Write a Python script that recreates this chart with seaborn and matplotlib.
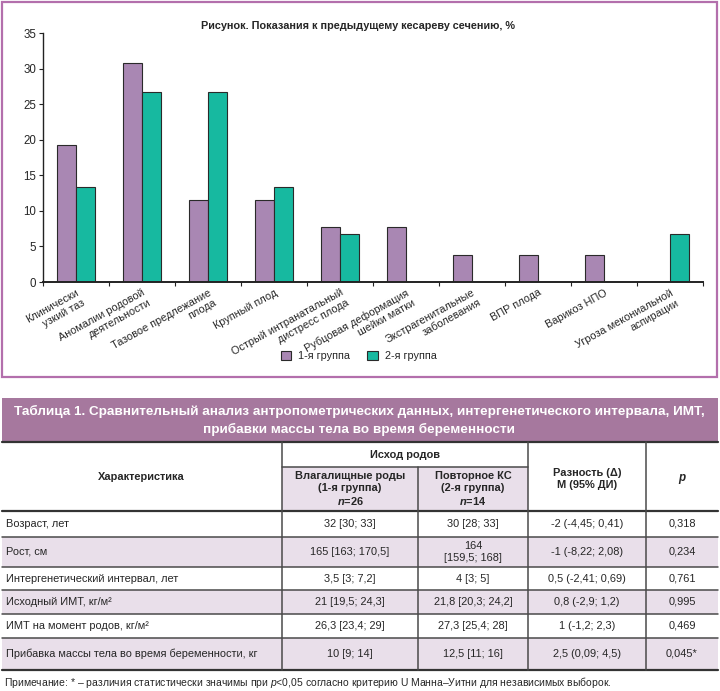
import pandas as pd
import numpy as np
import seaborn as sns
import matplotlib
import matplotlib.pyplot as plt
from matplotlib.patches import Rectangle

sns.set_theme(style='ticks')
FONT = 'Liberation Sans'
plt.rcParams['font.family'] = [FONT, 'DejaVu Sans']
plt.rcParams['mathtext.fontset'] = 'custom'
plt.rcParams['mathtext.rm'] = FONT
plt.rcParams['mathtext.it'] = FONT + ':italic'
plt.rcParams['mathtext.bfit'] = FONT + ':italic:bold'
plt.rcParams['axes.linewidth'] = 1.0

# ---- chart data ----
categories = ['Клинически\nузкий таз', 'Аномалии родовой\nдеятельности',
              'Тазовое предлежание\nплода', 'Крупный плод',
              'Острый интранатальный\nдистресс плода', 'Рубцовая деформация\nшейки матки',
              'Экстрагенитальные\nзаболевания', 'ВПР плода', 'Варикоз НПО',
              'Угроза мекониальной\nаспирации']
group1 = [19.2, 30.8, 11.5, 11.5, 7.7, 7.7, 3.8, 3.8, 3.8, 0]
group2 = [13.3, 26.7, 26.7, 13.3, 6.7, 0, 0, 0, 0, 6.7]
group_names = ['1-я группа', '2-я группа']
chart_title = 'Рисунок. Показания к предыдущему кесареву сечению, %'

# ---- table data ----
table_title = ['Таблица 1. Сравнительный анализ антропометрических данных, интергенетического интервала, ИМТ,',
               'прибавки массы тела во время беременности']
row_labels = ['Возраст, лет', 'Рост, см', 'Интергенетический интервал, лет',
              'Исходный ИМТ, кг/м²', 'ИМТ на момент родов, кг/м²',
              'Прибавка массы тела во время беременности, кг']
col_vag = ['32 [30; 33]', '165 [163; 170,5]', '3,5 [3; 7,2]', '21 [19,5; 24,3]',
           '26,3 [23,4; 29]', '10 [9; 14]']
col_cs = ['30 [28; 33]', '164\n[159,5; 168]', '4 [3; 5]', '21,8 [20,3; 24,2]',
          '27,3 [25,4; 28]', '12,5 [11; 16]']
col_diff = ['-2 (-4,45; 0,41)', '-1 (-8,22; 2,08)', '0,5 (-2,41; 0,69)', '0,8 (-2,9; 1,2)',
            '1 (-1,2; 2,3)', '2,5 (0,09; 4,5)']
col_p = ['0,318', '0,234', '0,761', '0,995', '0,469', '0,045*']
note = 'Примечание: * – различия статистически значимы при $p$<0,05 согласно критерию U Манна–Уитни для независимых выборок.'

purple = '#A987B3'
teal = '#17B9A0'
band = '#A6789E'
light = '#E9DFEA'
W, H = 720, 691

fig = plt.figure(figsize=(7.2, 6.91), dpi=100)

# ---- bar chart ----
ax = fig.add_axes([43 / W, 1 - 282 / H, 660 / W, 249 / H])
df = pd.DataFrame({
    'cat': categories * 2,
    'val': group1 + group2,
    'grp': [group_names[0]] * len(categories) + [group_names[1]] * len(categories),
})
sns.barplot(data=df, x='cat', y='val', hue='grp', palette=[purple, teal], saturation=1,
            width=0.58, edgecolor='#2a2a2a', linewidth=0.8, ax=ax)
ax.set_xlim(-0.5, len(categories) - 0.5)
ax.set_ylim(0, 35)
ax.set_yticks(np.arange(0, 36, 5))
ax.set_xlabel('')
ax.set_ylabel('')
sns.despine(ax=ax)
ax.spines['left'].set_color('#222222')
ax.spines['bottom'].set_color('#222222')
ax.spines['bottom'].set_linewidth(1.4)
ax.tick_params(axis='y', labelsize=8.3, length=3, width=0.8, pad=2, color='#222222')
ax.set_xticks(range(len(categories)))
ax.set_xticklabels(categories, rotation=29, ha='right', rotation_mode='anchor',
                   fontsize=7.8, multialignment='right')
ax.set_xticks(np.arange(-0.5, len(categories)), minor=True)
ax.tick_params(axis='x', which='major', length=0, pad=4)
ax.tick_params(axis='x', which='minor', length=3, width=0.8, color='#222222')
sns.move_legend(ax, 'center', bbox_to_anchor=(0.478, -0.297), ncol=2, frameon=False,
                title=None, fontsize=7.8, handlelength=1.0, handleheight=1.0,
                columnspacing=1.6, handletextpad=0.6)

fig.text(358 / W, 1 - 26 / H, chart_title, ha='center', va='center',
         fontsize=7.8, weight='bold')
fig.patches.append(Rectangle((2 / W, 1 - 377 / H), 715 / W, 375 / H,
                             transform=fig.transFigure, fill=False,
                             edgecolor='#B36FAC', lw=1.6))

# ---- table ----
tax = fig.add_axes([0, 0, 1, 1])
tax.set_xlim(0, W)
tax.set_ylim(H, 0)
tax.axis('off')

tax.add_patch(Rectangle((2, 398), 716, 44, fc=band, ec='none'))
tax.text(359, 411, table_title[0], ha='center', va='center', color='white',
         fontsize=9.7, weight='bold')
tax.text(359, 429, table_title[1], ha='center', va='center', color='white',
         fontsize=9.7, weight='bold')

row_edges = [511, 537, 567, 590, 614, 638, 670]
cols = [2, 282, 418, 528, 646, 718]
tax.add_patch(Rectangle((282, 467), 246, 44, fc=light, ec='none'))
for i in range(len(row_labels)):
    if i % 2 == 1:
        tax.add_patch(Rectangle((2, row_edges[i]), 716, row_edges[i + 1] - row_edges[i],
                                fc=light, ec='none'))

line_c = '#4a4a4a'
tax.plot([2, 718], [442, 442], color='#333333', lw=1.6)
tax.plot([2, 718], [511, 511], color='#333333', lw=1.6)
tax.plot([282, 528], [467, 467], color=line_c, lw=1.1)
for y in row_edges[1:-1]:
    tax.plot([2, 718], [y, y], color=line_c, lw=1.1)
tax.plot([2, 718], [670, 670], color='#333333', lw=1.6)
tax.plot([282, 282], [442, 670], color=line_c, lw=1.1)
tax.plot([418, 418], [467, 670], color=line_c, lw=1.1)
tax.plot([528, 528], [442, 670], color=line_c, lw=1.1)
tax.plot([646, 646], [442, 670], color=line_c, lw=1.1)

hfs = 7.9
tax.text(141, 477, 'Характеристика', ha='center', va='center', fontsize=hfs, weight='bold')
tax.text(405, 455, 'Исход родов', ha='center', va='center', fontsize=hfs, weight='bold')
tax.text(350, 489, 'Влагалищные роды\n(1-я группа)\n$\\mathbfit{n}$=26', ha='center',
         va='center', fontsize=hfs, weight='bold', linespacing=1.25)
tax.text(473, 489, 'Повторное КС\n(2-я группа)\n$\\mathbfit{n}$=14', ha='center',
         va='center', fontsize=hfs, weight='bold', linespacing=1.25)
tax.text(587, 479, 'Разность (Δ)\nМ (95% ДИ)', ha='center', va='center',
         fontsize=hfs, weight='bold', linespacing=1.3)
tax.text(682, 478, 'p', ha='center', va='center', fontsize=hfs + 0.5,
         weight='bold', style='italic')

bfs = 7.9
centers = [(cols[1] + cols[2]) / 2, (cols[2] + cols[3]) / 2,
           (cols[3] + cols[4]) / 2, (cols[4] + cols[5]) / 2]
for i, lab in enumerate(row_labels):
    yc = (row_edges[i] + row_edges[i + 1]) / 2
    tax.text(6, yc, lab, ha='left', va='center', fontsize=bfs)
    for cx, vals in zip(centers, [col_vag, col_cs, col_diff, col_p]):
        tax.text(cx, yc, vals[i], ha='center', va='center', fontsize=bfs, linespacing=1.35)

tax.text(4, 683, note, ha='left', va='center', fontsize=7.5)

fig.savefig('out.png', dpi=100)
